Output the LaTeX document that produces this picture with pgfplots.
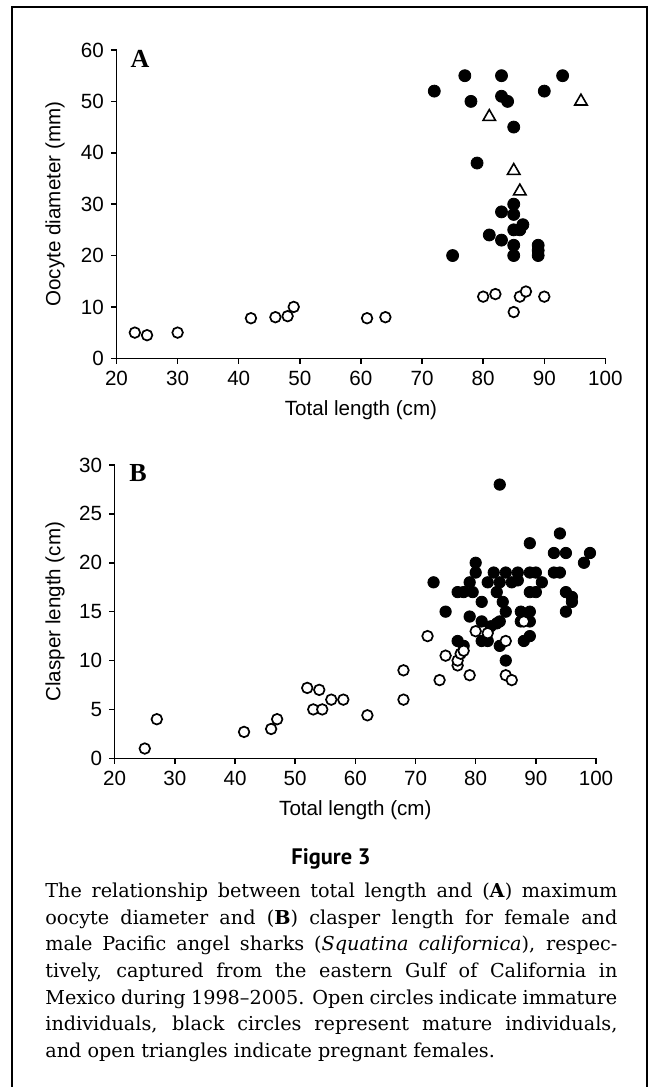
\documentclass[border=0pt]{standalone}
\usepackage{fontspec}
\setmainfont{Liberation Sans}
\newfontfamily\capfont{DejaVu Serif}
\newfontfamily\figfont{PT Sans}
\newfontfamily\letfont{Liberation Serif}
\usepackage{pgfplots}
\pgfplotsset{compat=1.18}

\pgfplotsset{
  panel/.style={scale only axis, axis lines*=left, tick align=outside,
    major tick length=2.8pt, axis line style={line width=0.75pt},
    tick style={line width=0.75pt,black},
    xmin=20, xmax=100, xtick={20,30,...,100}, clip=false,
    tick label style={font=\fontsize{10.3}{12}\selectfont},
    label style={font=\fontsize{10.3}{12}\selectfont},
    /pgf/number format/assume math mode=true},
  imm/.style={only marks, mark=*, mark size=2.65pt,
    mark options={draw=black,fill=white,line width=0.85pt}},
  mat/.style={only marks, mark=*, mark size=3pt,
    mark options={draw=black,fill=black}},
  preg/.style={only marks, mark=triangle, mark size=3.6pt,
    mark options={draw=black,fill=white,line width=0.8pt}},
}

\begin{document}
\begin{tikzpicture}
\useasboundingbox (0,0) rectangle (325pt,-543.5pt);
\draw[line width=1pt] (6pt,-546pt) -- (6pt,-3.5pt) -- (323.5pt,-3.5pt) -- (323.5pt,-546pt);

% panel A: oocyte diameter
\begin{axis}[panel, at={(58.25pt,-179.15pt)}, anchor=south west,
  width=244.45pt, height=154.15pt,
  ymin=0, ymax=60, ytick={0,10,...,60},
  xlabel={Total length (cm)}, ylabel={Oocyte diameter (mm)},
  xlabel style={at={(axis description cs:0.5,-0.1677)},anchor=center},
  ylabel style={at={(axis description cs:-0.1258,0.5)},anchor=center}]
\addplot[mat] coordinates {
  (72,52) (77,55) (83,55) (93,55) (90,52) (78,50) (83,51) (84,50) (85,45)
  (79,38) (85,30) (83,28.5) (85,28) (86.5,26) (85,25) (86,25) (81,24)
  (83,23) (85,22) (85,20) (89,22) (89,21) (89,20) (75,20)};
\addplot[imm] coordinates {
  (23,5) (25,4.5) (30,5) (42,7.8) (46,8) (48,8.2) (49,10) (61,7.8) (64,8)
  (80,12) (82,12.5) (85,9) (86,12) (87,13) (90,12)};
\addplot[preg] coordinates {(81,47) (96,50) (85,36.5) (86,32.5)};
\node[font=\letfont\bfseries\fontsize{13}{14}\selectfont] at (axis cs:23.85,58.2) {A};
\end{axis}

% panel B: clasper length
\begin{axis}[panel, at={(57.35pt,-379.15pt)}, anchor=south west,
  width=240.65pt, height=146.65pt,
  ymin=0, ymax=30, ytick={0,5,...,30},
  xlabel={Total length (cm)}, ylabel={Clasper length (cm)},
  xlabel style={at={(axis description cs:0.5,-0.1763)},anchor=center},
  ylabel style={at={(axis description cs:-0.124,0.5)},anchor=center}]
\addplot[mat, mark size=2.85pt] coordinates {
  (73,18) (75,15) (77,12) (77,17) (78,17) (78,11.5) (79,18) (79,14.5)
  (79.5,17) (80,20) (80,19) (81,16) (81,14) (81,12) (82,18) (82,12)
  (82.5,13.5) (83,19) (83.5,17) (83.5,13.8) (84,28) (84,18) (84,14)
  (84,11.5) (84.5,16) (85,19) (85,15) (85,10) (86,18) (87,19) (87,18.2)
  (87.5,15) (87.5,14) (88,12) (89,22) (89,19) (89,17) (89,15) (89,14)
  (89,12.5) (90,19) (90,17) (91,18) (93,21) (93,19) (94,23) (94,19)
  (95,21) (95,17) (95,15) (96,16) (96,16.5) (98,20) (99,21)};
\addplot[imm] coordinates {
  (25,1) (27,4) (41.5,2.7) (46,3) (47,4) (52,7.2) (53,5) (54,7) (54.5,5)
  (56,6) (58,6) (62,4.4) (68,9) (68,6) (72,12.5) (74,8) (75,10.5) (77,9.5)
  (77,10) (77.5,10.7) (78,11) (79,8.5) (80,13) (82,12.8) (85,8.5) (86,8)
  (85,12) (88,14)};
\node[font=\letfont\bfseries\fontsize{13}{14}\selectfont] at (axis cs:23.9,29.2) {B};
\end{axis}

\node[anchor=base, inner sep=0pt, font=\figfont\bfseries\fontsize{11.2}{13}\selectfont]
  at (165.5pt,-432pt) {Figure 3};
\begin{scope}[every node/.style={anchor=base west, inner sep=0pt,
    font=\capfont\fontsize{9.6}{13.3}\selectfont}]
\node at (22.5pt,-448.65pt) {\makebox[286pt][s]{The relationship between total length and (\textbf{A}) maximum}};
\node at (22.5pt,-462.0pt) {\makebox[286pt][s]{oocyte diameter and (\textbf{B}) clasper length for female and}};
\node at (22.5pt,-475.35pt) {\makebox[286pt][s]{male Pacific angel sharks (\textit{Squatina californica}), respec-}};
\node at (22.5pt,-488.65pt) {\makebox[286pt][s]{tively, captured from the eastern Gulf of California in}};
\node at (22.5pt,-502.0pt) {\makebox[286pt][s]{Mexico during 1998–2005. Open circles indicate immature}};
\node at (22.5pt,-515.35pt) {\makebox[286pt][s]{individuals, black circles represent mature individuals,}};
\node at (22.5pt,-528.65pt) {and open triangles indicate pregnant females.};
\end{scope}
\end{tikzpicture}
\end{document}
